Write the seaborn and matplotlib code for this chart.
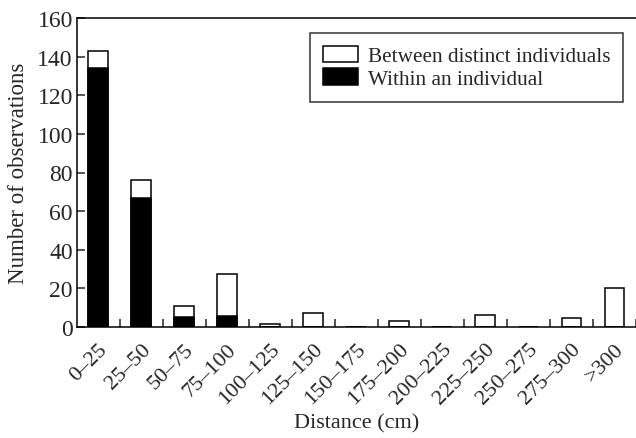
import numpy as np
import pandas as pd
import matplotlib
matplotlib.use("Agg")
import matplotlib.pyplot as plt
import seaborn as sns
from matplotlib.patches import Patch

# Datos
categorias = ["0–25", "25–50", "50–75", "75–100", "100–125", "125–150",
              "150–175", "175–200", "200–225", "225–250", "250–275",
              "275–300", ">300"]
total_obs = [143, 76, 11, 27.5, 1.5, 7, 0, 3.3, 0, 6, 0, 4.7, 20]
dentro_individuo = [134, 67, 5, 5.5, 0, 0, 0, 0, 0, 0, 0, 0, 0]

df = pd.DataFrame({"categoria": categorias,
                   "total": total_obs,
                   "dentro": dentro_individuo})

sns.set_style("ticks")
plt.rcParams["font.family"] = ["Liberation Serif", "DejaVu Serif"]
plt.rcParams["font.size"] = 16

fig = plt.figure(figsize=(6.36, 4.39), dpi=100)
ax = fig.add_axes([77 / 636, 1 - 328 / 439, 1 - 77 / 636, (328 - 19) / 439])

sns.barplot(data=df, x="categoria", y="total", color="white",
            edgecolor="black", linewidth=1.1, width=0.46, saturation=1, ax=ax)
sns.barplot(data=df, x="categoria", y="dentro", color="black",
            edgecolor="black", linewidth=1.1, width=0.46, saturation=1, ax=ax)

ax.set_xlim(-0.49, 12.42)
ax.set_ylim(0, 160)
ax.set_yticks(np.arange(0, 161, 20))

# marcas entre barras apuntando hacia dentro
ax.set_xticks(np.arange(len(categorias)) + 0.5, minor=True)
ax.tick_params(axis="x", which="major", length=0, pad=9, labelsize=16)
ax.tick_params(axis="x", which="minor", direction="in", length=5.8, width=1.1)
ax.tick_params(axis="y", direction="in", length=5.5, width=1.1, pad=3,
               labelsize=17)
ax.set_xticks(np.arange(len(categorias)))
ax.set_xticklabels(categorias, rotation=45, ha="right", va="top",
                   rotation_mode="anchor")

for lado in ["top", "left", "bottom"]:
    ax.spines[lado].set_linewidth(1.1)
    ax.spines[lado].set_color("black")
ax.spines["right"].set_visible(False)

ax.set_xlabel("Distance (cm)", fontsize=16, labelpad=4)
ax.set_ylabel("Number of observations", fontsize=16.5, labelpad=6)

manijas = [Patch(facecolor="white", edgecolor="black", linewidth=1.1,
                 label="Between distinct individuals"),
           Patch(facecolor="black", edgecolor="black", linewidth=1.1,
                 label="Within an individual")]
leg = ax.legend(handles=manijas, loc="upper right",
                bbox_to_anchor=(623 / 636, 1 - 34 / 439),
                bbox_transform=fig.transFigure, borderaxespad=0,
                fontsize=15.3, frameon=True, fancybox=False, edgecolor="black",
                handlelength=1.65, handleheight=0.8, handletextpad=0.45,
                labelspacing=0.1, borderpad=0.6)
leg.get_frame().set_linewidth(1.1)

fig.savefig("out.png", dpi=100)
